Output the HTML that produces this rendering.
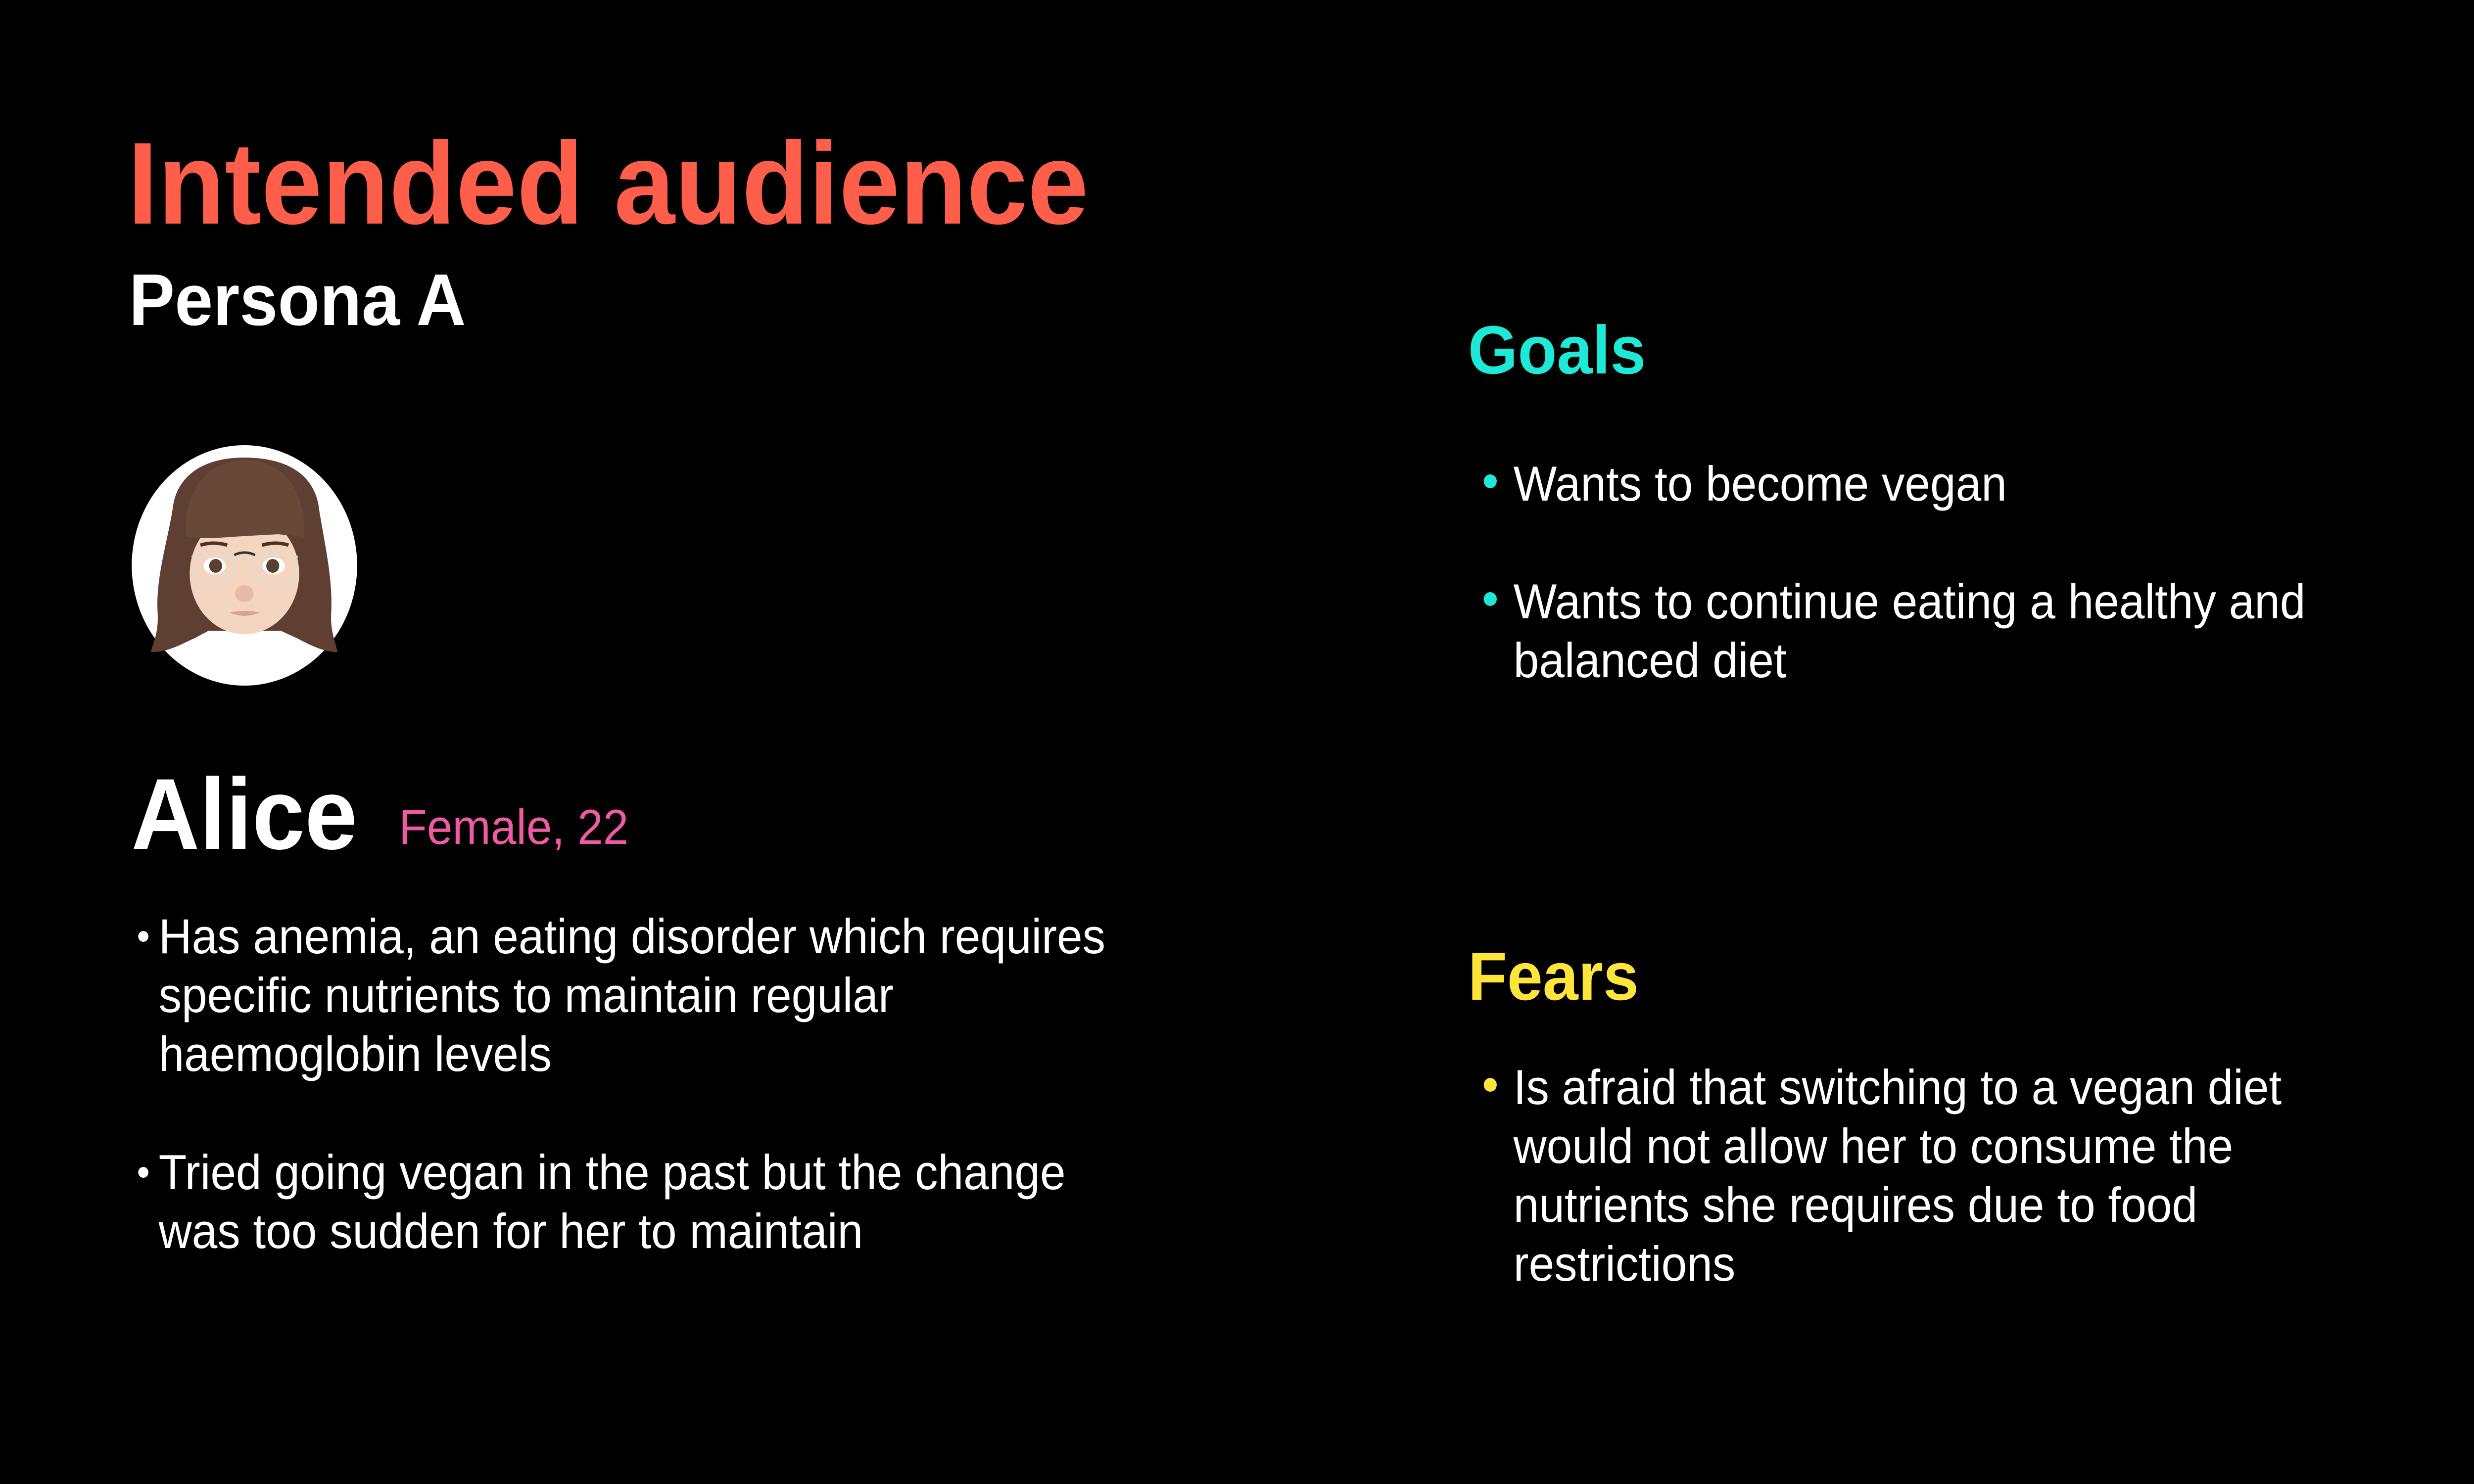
<!DOCTYPE html>
<html><head><meta charset="utf-8"><style>
html,body{margin:0;padding:0;background:#000;width:100%;height:100%;overflow:hidden}
svg{display:block;position:absolute;left:0;top:0;width:100vw;height:100vh}
text{font-family:"Liberation Sans",Arial,sans-serif}
</style></head><body>
<svg viewBox="0 0 5334 3000" preserveAspectRatio="none" xmlns="http://www.w3.org/2000/svg">
<rect width="5334" height="3000" fill="#000"/>
<text x="275" y="452" font-size="236" font-weight="bold" fill="#FF5E4B">Intended audience</text>
<text x="278" y="657" font-size="148" font-weight="bold" fill="#fff">Persona A</text>

<!-- avatar -->
<circle cx="527" cy="1143" r="243" fill="#fff"/>
<path d="M372 1030 C360 1100 335 1170 340 1240 C342 1280 330 1300 325 1318 C360 1320 395 1300 420 1290 L450 1275 L527 1275 L605 1275 L640 1290 C660 1300 700 1320 728 1318 C720 1290 712 1270 714 1240 C718 1170 700 1100 688 1030 C680 960 620 925 527 925 C440 925 380 960 372 1030Z" fill="#5e3f31"/>
<ellipse cx="527" cy="1160" rx="118" ry="122" fill="#f3d5c0"/>
<path d="M400 1085 C395 990 450 930 527 930 C610 930 660 990 655 1085 L600 1080 L560 1082 L505 1085 L460 1088 L420 1087 Z" fill="#6a4838"/>
<path d="M432 1102 Q460 1094 490 1102 M565 1102 Q595 1094 622 1102" stroke="#4a3428" stroke-width="7" fill="none"/>
<ellipse cx="463" cy="1144" rx="24" ry="17" fill="#fff"/><circle cx="465" cy="1144" r="14" fill="#5a4030"/>
<ellipse cx="590" cy="1144" rx="24" ry="17" fill="#fff"/><circle cx="588" cy="1144" r="14" fill="#5a4030"/>
<path d="M415 1125 Q465 1110 505 1125 L500 1175 Q460 1185 420 1170Z M550 1125 Q590 1110 640 1125 L635 1170 Q595 1185 555 1175Z" fill="none" stroke="#e6d8cf" stroke-width="4"/>
<path d="M505 1122 Q527 1112 550 1122" stroke="#333" stroke-width="5" fill="none"/>
<ellipse cx="527" cy="1200" rx="20" ry="17" fill="#e6bca4"/>
<path d="M495 1238 Q527 1232 560 1238 Q527 1252 495 1238Z" fill="#d9a48f"/>

<text x="283" y="1716" font-size="204" font-weight="bold" fill="#fff">Alice</text>
<text x="860" y="1706" font-size="99" fill="#F05AA5">Female, 22</text>

<g font-size="99" fill="#fff">
<circle cx="309" cy="1893" r="11" fill="#fff"/>
<text x="342" y="1927">Has anemia, an eating disorder which requires</text>
<text x="342" y="2046">specific nutrients to maintain regular</text>
<text x="342" y="2165">haemoglobin levels</text>
<circle cx="309" cy="2370" r="11" fill="#fff"/>
<text x="342" y="2404">Tried going vegan in the past but the change</text>
<text x="342" y="2523">was too sudden for her to maintain</text>
</g>

<text x="3165" y="755" font-size="138" font-weight="bold" fill="#1DE9D6">Goals</text>
<g font-size="99" fill="#fff">
<circle cx="3213" cy="973" r="14" fill="#1DE9D6"/>
<text x="3263" y="1012">Wants to become vegan</text>
<circle cx="3213" cy="1211" r="14" fill="#1DE9D6"/>
<text x="3263" y="1250">Wants to continue eating a healthy and</text>
<text x="3263" y="1369">balanced diet</text>
</g>

<text x="3165" y="2021" font-size="138" font-weight="bold" fill="#FFE43A">Fears</text>
<g font-size="99" fill="#fff">
<circle cx="3213" cy="2193" r="14" fill="#FFE43A"/>
<text x="3263" y="2232">Is afraid that switching to a vegan diet</text>
<text x="3263" y="2351">would not allow her to consume the</text>
<text x="3263" y="2470">nutrients she requires due to food</text>
<text x="3263" y="2589">restrictions</text>
</g>
</svg>
</body></html>
